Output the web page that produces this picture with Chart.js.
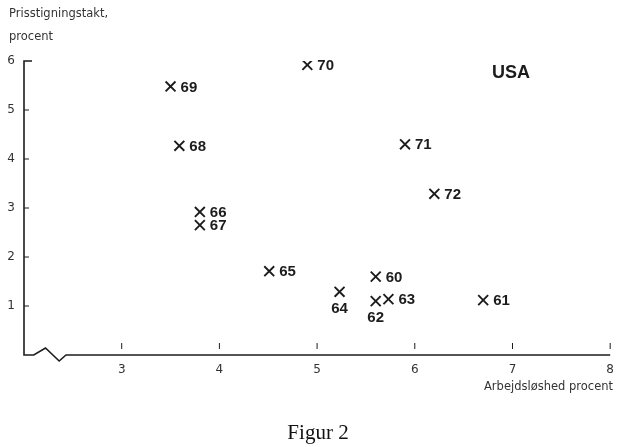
<!DOCTYPE html>
<html lang="da">
<head>
<meta charset="UTF-8">
<title>Figur 2 - USA</title>
<script src="https://cdn.jsdelivr.net/npm/chart.js"></script>
<style>
  body { margin: 0; background: #fff; }
  #c { display: block; }
</style>
</head>
<body>
<canvas id="c" width="622" height="447"></canvas>
<script>
// aar, arbejdsloeshed (x) og prisstigning (y), aflaest fra figuren
const years = ['60', '61', '62', '63', '64', '65', '66', '67', '68', '69', '70', '71', '72'];
const unemployment = [5.6, 6.7, 5.6, 5.73, 5.23, 4.51, 3.8, 3.8, 3.59, 3.5, 4.9, 5.9, 6.2];
const inflation = [1.6, 1.12, 1.1, 1.14, 1.29, 1.71, 2.92, 2.65, 4.27, 5.48, 5.92, 4.3, 3.29];

// aksernes tal
const xTickLabels = { 3: '3', 4: '4', 5: '5', 6: '6', 7: '7', 8: '8' };
const yTickLabels = { 1: '1', 2: '2', 3: '3', 4: '4', 5: '5', 6: '6' };

const points = years.map((y, i) => ({ x: unemployment[i], y: inflation[i] }));

// etiketter under punktet i stedet for til hoejre
const below = ['62', '64'];

const ink = '#1c1c1c';

const decor = {
  id: 'decor',
  afterDraw(chart) {
    const ctx = chart.ctx;
    const xs = chart.scales.x, ys = chart.scales.y;
    const a = chart.chartArea;
    ctx.save();
    ctx.strokeStyle = ink;
    ctx.lineWidth = 1.6;

    // y-akse med top-krog
    ctx.beginPath();
    ctx.moveTo(a.left + 8, a.top);
    ctx.lineTo(a.left, a.top);
    ctx.lineTo(a.left, a.bottom);
    // x-akse med brud
    ctx.lineTo(xs.getPixelForValue(2.1), a.bottom);
    ctx.lineTo(xs.getPixelForValue(2.22), a.bottom - 7);
    ctx.lineTo(xs.getPixelForValue(2.36), a.bottom + 6);
    ctx.lineTo(xs.getPixelForValue(2.43), a.bottom);
    ctx.lineTo(a.right, a.bottom);
    ctx.stroke();

    // smaa tick-streger inde i plottet
    ctx.lineWidth = 1;
    for (let v = 1; v <= 5; v++) {
      const py = ys.getPixelForValue(v);
      ctx.beginPath();
      ctx.moveTo(a.left, py);
      ctx.lineTo(a.left + 5, py);
      ctx.stroke();
    }
    for (let v = 3; v <= 8; v++) {
      const px = xs.getPixelForValue(v);
      ctx.beginPath();
      ctx.moveTo(px, a.bottom - 12);
      ctx.lineTo(px, a.bottom - 6);
      ctx.stroke();
    }

    // aarstal ved punkterne
    const meta = chart.getDatasetMeta(0);
    ctx.fillStyle = ink;
    ctx.font = 'bold 15px "Liberation Sans", Arial, sans-serif';
    meta.data.forEach((el, i) => {
      if (below.includes(years[i])) {
        ctx.textAlign = 'center';
        ctx.textBaseline = 'middle';
        ctx.fillText(years[i], el.x, el.y + 17);
      } else {
        ctx.textAlign = 'left';
        ctx.textBaseline = 'middle';
        ctx.fillText(years[i], el.x + 10, el.y + 1);
      }
    });

    // USA
    ctx.font = 'bold 18px "Liberation Sans", Arial, sans-serif';
    ctx.textAlign = 'left';
    ctx.fillText('USA', 492, 73);

    // aksetitler
    ctx.fillStyle = '#333';
    ctx.font = '11.5px "DejaVu Sans", sans-serif';
    ctx.textBaseline = 'middle';
    ctx.fillText('Prisstigningstakt,', 9, 14);
    ctx.fillText('procent', 9, 37);
    ctx.textAlign = 'right';
    ctx.fillText('Arbejdsløshed procent', 613, 387);

    // figurtekst
    ctx.fillStyle = '#111';
    ctx.font = '21px "Liberation Serif", "Times New Roman", serif';
    ctx.textAlign = 'center';
    ctx.fillText('Figur 2', 318, 433);
    ctx.restore();
  }
};

new Chart(document.getElementById('c'), {
  type: 'scatter',
  data: {
    datasets: [{
      label: 'USA',
      data: points,
      pointStyle: 'crossRot',
      pointRadius: 7,
      pointHoverRadius: 7,
      borderColor: ink,
      backgroundColor: ink,
      pointBorderWidth: 1.9
    }]
  },
  options: {
    responsive: false,
    animation: false,
    layout: { padding: { top: 61, right: 10, left: 0, bottom: 0 } },
    plugins: {
      legend: { display: false },
      tooltip: { enabled: false }
    },
    scales: {
      x: {
        type: 'linear',
        min: 2,
        max: 8,
        grid: { display: false, drawTicks: false },
        border: { display: false },
        ticks: {
          stepSize: 1,
          padding: 8,
          color: '#333',
          font: { size: 12, family: '"DejaVu Sans", sans-serif' },
          callback: v => xTickLabels[v] || ''
        },
        afterFit: s => { s.height = 92; }
      },
      y: {
        type: 'linear',
        min: 0,
        max: 6,
        grid: { display: false, drawTicks: false },
        border: { display: false },
        ticks: {
          stepSize: 1,
          padding: 9,
          color: '#333',
          font: { size: 12, family: '"DejaVu Sans", sans-serif' },
          callback: v => yTickLabels[v] || ''
        },
        afterFit: s => { s.width = 24; }
      }
    }
  },
  plugins: [decor]
});
</script>
</body>
</html>
